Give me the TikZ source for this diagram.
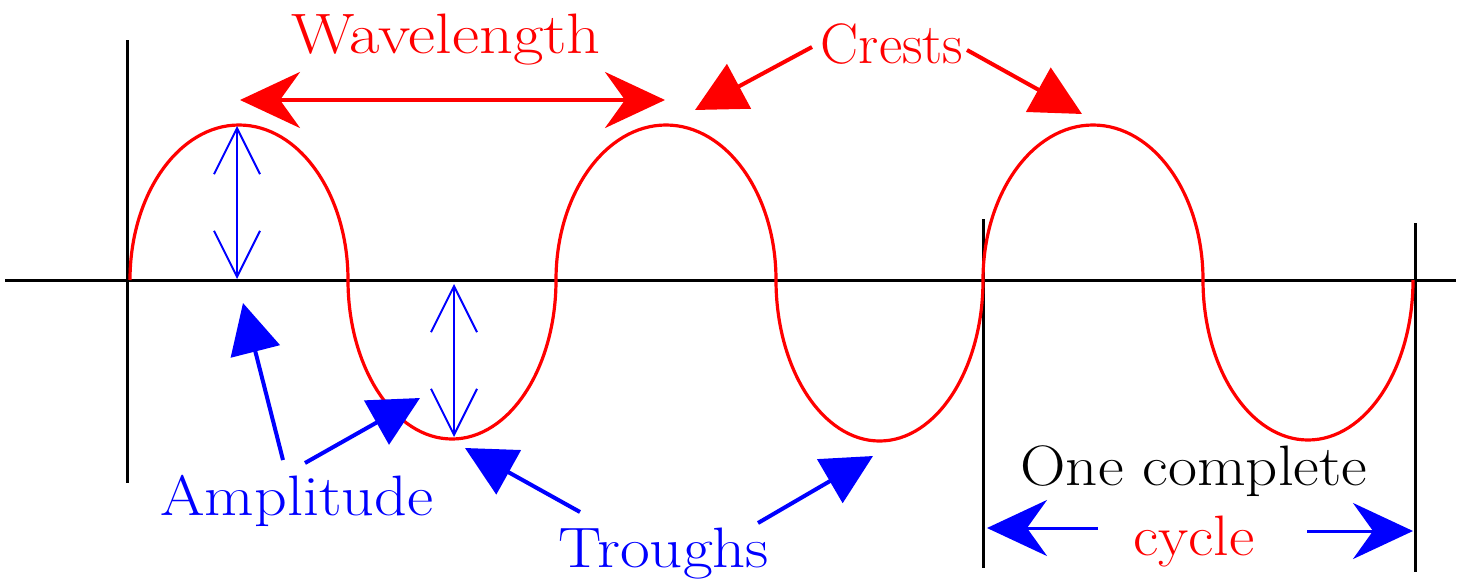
\documentclass[tikz,border=0pt]{standalone}
\usepackage{graphicx}
\usetikzlibrary{arrows.meta}
\begin{document}
\begin{tikzpicture}[x=0.5pt,y=-0.5pt,
  lbl/.style={font=\fontsize{28.5}{30}\selectfont, inner sep=0pt, anchor=base},
  axisline/.style={black, line width=1.5pt},
  wave/.style={red, line width=1.6pt},
  wavearrow/.style={red, line width=2pt, {Stealth[length=30pt,width=28pt,inset=10pt]}-{Stealth[length=30pt,width=28pt,inset=10pt]}},
  crestarrow/.style={red, line width=2pt, -{Triangle[length=25pt,width=25pt]}},
  bluearrow/.style={blue, line width=2pt, -{Triangle[length=25pt,width=25pt]}},
  amparrow/.style={blue, line width=1pt, {Straight Barb[length=23pt,width=23pt]}-{Straight Barb[length=23pt,width=23pt]}},
  cyclearrow/.style={blue, line width=1.5pt, -{Stealth[length=30pt,width=28pt,inset=10pt]}}
]
\useasboundingbox (0,0) rectangle (1460,584);

% axis and vertical markers
\coordinate (axL) at (5,280);
\coordinate (axR) at (1456,280);
\draw[axisline] (axL) -- (axR);
\coordinate (v1t) at (127,40);  \coordinate (v1b) at (127,483);
\coordinate (v2t) at (983,219); \coordinate (v2b) at (983,568);
\coordinate (v3t) at (1415,223);\coordinate (v3b) at (1415,572);
\draw[axisline] (v1t) -- (v1b);
\draw[axisline] (v2t) -- (v2b);
\draw[axisline] (v3t) -- (v3b);

% wave made of half ellipses
\draw[wave] (130,280)
  arc[start angle=180,end angle=360,x radius=109,y radius=155]
  arc[start angle=180,end angle=0,x radius=104,y radius=159]
  arc[start angle=180,end angle=360,x radius=110,y radius=155]
  arc[start angle=180,end angle=0,x radius=103.5,y radius=161]
  arc[start angle=180,end angle=360,x radius=110,y radius=155]
  arc[start angle=180,end angle=0,x radius=105,y radius=160];

% labels
\node[lbl, red] (wl) at (446,53) {\scalebox{1.165}[1]{Wavelength}};
\node[lbl, red] (cr) at (892,63) {Crests};
\node[lbl, blue] (amp) at (297,515) {\scalebox{1.125}[1]{Amplitude}};
\node[lbl, blue] (tr) at (664,567) {\scalebox{1.137}[1]{Troughs}};
\node[lbl, black] (one) at (1194,485) {\scalebox{1.106}[1]{One complete}};
\node[lbl, red] (cyc) at (1194,555) {\scalebox{1.09}[1]{cycle}};

% wavelength arrow
\coordinate (wlA) at (240,100);
\coordinate (wlB) at (665,100);
\draw[wavearrow] (wlA) -- (wlB);

% crest arrows
\coordinate (c1s) at (812,47);  \coordinate (c1t) at (695,110);
\coordinate (c2s) at (967,50);  \coordinate (c2t) at (1082,114);
\draw[crestarrow] (c1s) -- (c1t);
\draw[crestarrow] (c2s) -- (c2t);

% amplitude arrows
\coordinate (a1s) at (283,460); \coordinate (a1t) at (243,303);
\coordinate (a2s) at (305,463); \coordinate (a2t) at (420,398);
\draw[bluearrow] (a1s) -- (a1t);
\draw[bluearrow] (a2s) -- (a2t);

% trough arrows
\coordinate (t1s) at (580,512); \coordinate (t1t) at (465,448);
\coordinate (t2s) at (758,523); \coordinate (t2t) at (873,456);
\draw[bluearrow] (t1s) -- (t1t);
\draw[bluearrow] (t2s) -- (t2t);

% amplitude double arrows
\coordinate (m1t) at (237,126); \coordinate (m1b) at (237,279);
\coordinate (m2t) at (454,284); \coordinate (m2b) at (454,437);
\draw[amparrow] (m1t) -- (m1b);
\draw[amparrow] (m2t) -- (m2b);

% cycle arrows
\coordinate (cyLs) at (1098,528); \coordinate (cyLt) at (987,528);
\coordinate (cyRs) at (1307,531); \coordinate (cyRt) at (1413,531);
\draw[cyclearrow] (cyLs) -- (cyLt);
\draw[cyclearrow] (cyRs) -- (cyRt);
\end{tikzpicture}
\end{document}
